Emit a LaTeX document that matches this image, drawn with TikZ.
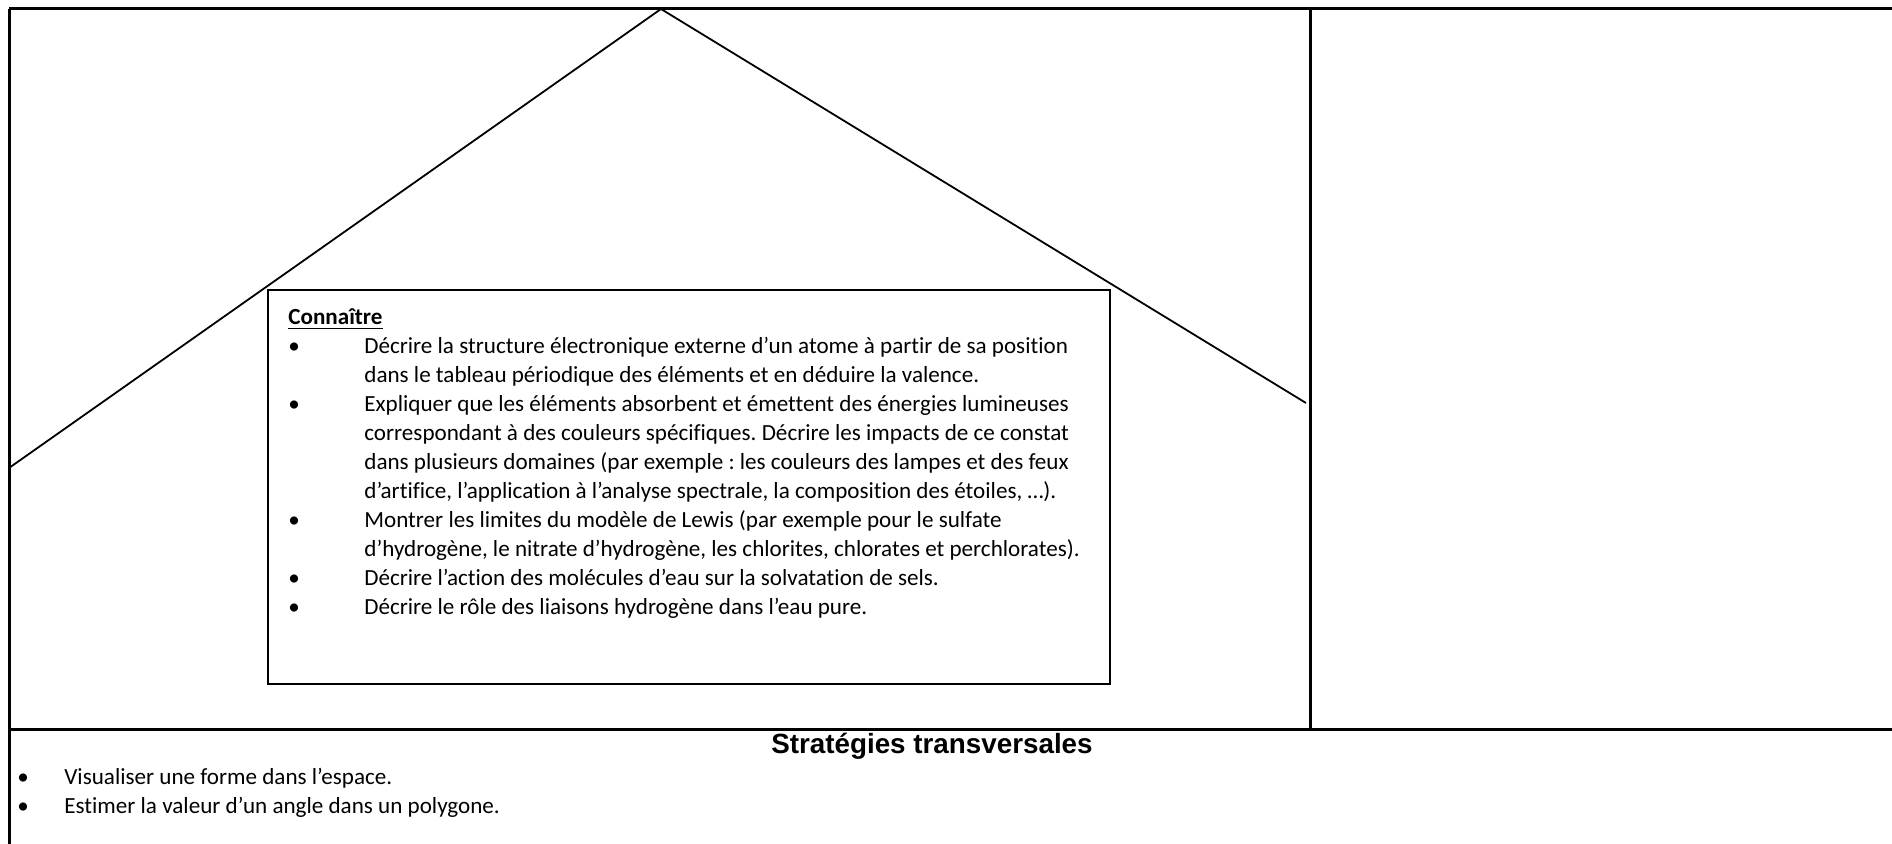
\documentclass[tikz,border=0pt]{standalone}
\usepackage{fontspec}
\setmainfont{Carlito}[Ligatures=NoCommon]
\newfontfamily\arialfont{Liberation Sans}
\frenchspacing

\begin{document}
\begin{tikzpicture}
    [
        x=0.5pt, y=-0.5pt,
        cadre/.style={line width=1.5pt},
        toit/.style={line width=0.9pt},
        boite/.style={draw, line width=1pt, fill=white, inner sep=0pt, anchor=north west,
            minimum width=421pt, minimum height=197pt},
        texte/.style={inner sep=0pt, anchor=base west, font=\fontsize{11.55}{14.5}\selectfont},
    ]
    
    \useasboundingbox (0,0) rectangle (1892,844);
    
    \coordinate (sommet) at (661,9);
    \coordinate (gauche) at (9,468);
    \coordinate (droite) at (1306,403);
    \draw [toit] (gauche) -- (sommet) -- (droite);
    
    \draw [cadre] (9,9) -- (1892,9);
    \draw [cadre] (9,9) -- (9,844);
    \draw [cadre] (9,729) -- (1892,729);
    \draw [cadre] (1310,9) -- (1310,729);
    
    \node [boite] (boite) at (267,289) {};
    \node [texte] (connaitre) at (288,325) {%
        \begin{tabular}[t]{@{}p{38pt}@{}l@{}}
            \multicolumn{2}{@{}l@{}}{\underline{\textbf{Connaître}}}\\
            \textbullet & Décrire la structure électronique externe d’un atome à partir de sa position\\
                        & dans le tableau périodique des éléments et en déduire la valence.\\
            \textbullet & Expliquer que les éléments absorbent et émettent des énergies lumineuses\\
                        & correspondant à des couleurs spécifiques. Décrire les impacts de ce constat\\
                        & dans plusieurs domaines (par exemple : les couleurs des lampes et des feux\\
                        & d’artifice, l’application à l’analyse spectrale, la composition des étoiles, …).\\
            \textbullet & Montrer les limites du modèle de Lewis (par exemple pour le sulfate\\
                        & d’hydrogène, le nitrate d’hydrogène, les chlorites, chlorates et perchlorates).\\
            \textbullet & Décrire l’action des molécules d’eau sur la solvatation de sels.\\
            \textbullet & Décrire le rôle des liaisons hydrogène dans l’eau pure.
        \end{tabular}};
    
    \node [texte, anchor=base, font=\arialfont\bfseries\fontsize{13.9}{16}\selectfont]
        (strategies) at (932,754) {Stratégies transversales};
    
    \foreach \y/\t [count=\i] in
    {784/Visualiser une forme dans l’espace., 813/Estimer la valeur d’un angle dans un polygone.}
    {
        \node [texte] (puce\i) at (17,\y) {\textbullet};
        \node [texte] (ligne\i) at (64,\y) {\t};
    }
    
    \end{tikzpicture}
\end{document}
